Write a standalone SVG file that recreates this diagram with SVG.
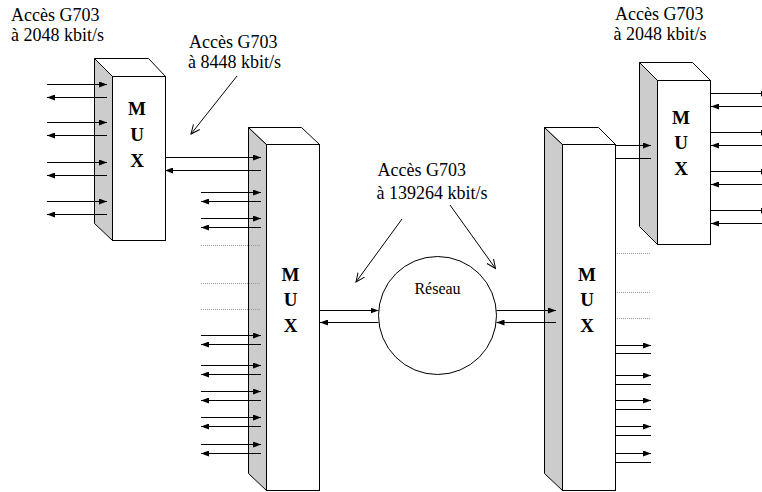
<svg xmlns="http://www.w3.org/2000/svg" width="762" height="492" viewBox="0 0 762 492">
<style>
.face{fill:#fff;stroke:#000;stroke-width:1}
.side{fill:#cccccc;stroke:#000;stroke-width:1}
.mux{font-family:"Liberation Serif","Times New Roman",serif;font-weight:bold;font-size:19px;text-anchor:middle;fill:#000}
.lbl{font-family:"Liberation Serif","Times New Roman",serif;font-size:18px;fill:#000}
.ln{stroke:#000;stroke-width:1;fill:none}
.arr{stroke:#000;stroke-width:1;fill:none;marker-end:url(#ah)}
.ptr{stroke:#000;stroke-width:1;fill:none;marker-end:url(#oh)}
.dot{stroke:#999;stroke-width:1;stroke-dasharray:1 1;fill:none}
</style>
<defs>
<marker id="ah" markerUnits="userSpaceOnUse" viewBox="0 0 8 6" refX="8" refY="3" markerWidth="8" markerHeight="6" orient="auto">
<path d="M0,0 L8,3 L0,6 z" fill="#000"/>
</marker>
<marker id="oh" markerUnits="userSpaceOnUse" viewBox="0 0 10 10" refX="9" refY="5" markerWidth="10" markerHeight="10" orient="auto">
<path d="M0,1 L9,5 L0,9" fill="none" stroke="#000" stroke-width="1"/>
</marker>
</defs>
<rect width="762" height="492" fill="#fff"/>

<g id="label-2048-left">
<text class="lbl" x="11" y="20.5">Accès G703</text>
<text class="lbl" x="11" y="40.5">à 2048 kbit/s</text>
</g>
<g id="label-8448">
<text class="lbl" x="189" y="47.5">Accès G703</text>
<text class="lbl" x="188" y="67.5">à 8448 kbit/s</text>
</g>
<g id="label-139264">
<text class="lbl" x="377.5" y="175.5">Accès G703</text>
<text class="lbl" x="376.5" y="198.5">à 139264 kbit/s</text>
</g>
<g id="label-2048-right">
<text class="lbl" x="615" y="20">Accès G703</text>
<text class="lbl" x="613.5" y="40">à 2048 kbit/s</text>
</g>

<g id="mux1">
<polygon class="side" points="94.5,58.5 112.5,76.5 112.5,240.5 94.5,223.5"/>
<polygon class="face" points="94.5,58.5 148.5,58.5 165.5,76.5 112.5,76.5"/>
<rect class="face" x="112.5" y="76.5" width="53" height="164"/>
<text class="mux" x="137" y="115">M</text>
<text class="mux" x="137" y="141">U</text>
<text class="mux" x="137" y="167">X</text>
</g>
<g id="mux2">
<polygon class="side" points="248.5,127.5 266.5,144.5 266.5,490.5 248.5,473.5"/>
<polygon class="face" points="248.5,127.5 301.5,127.5 319.5,144.5 266.5,144.5"/>
<rect class="face" x="266.5" y="144.5" width="53" height="346"/>
<text class="mux" x="290.5" y="280.5">M</text>
<text class="mux" x="290.5" y="306">U</text>
<text class="mux" x="290.5" y="332">X</text>
</g>
<g id="mux3">
<polygon class="side" points="544.5,127.5 562.5,144.5 562.5,490.5 544.5,473.5"/>
<polygon class="face" points="544.5,127.5 598.5,127.5 615.5,144.5 562.5,144.5"/>
<rect class="face" x="562.5" y="144.5" width="53" height="346"/>
<text class="mux" x="587" y="280.5">M</text>
<text class="mux" x="587" y="306">U</text>
<text class="mux" x="587" y="332">X</text>
</g>
<g id="mux4">
<polygon class="side" points="639.5,62.5 657.5,80.5 657.5,244.5 639.5,226.5"/>
<polygon class="face" points="639.5,62.5 692.5,62.5 710.5,80.5 657.5,80.5"/>
<rect class="face" x="657.5" y="80.5" width="53" height="164"/>
<text class="mux" x="681" y="123.5">M</text>
<text class="mux" x="681" y="149">U</text>
<text class="mux" x="681" y="175">X</text>
</g>
<g id="reseau">
<circle cx="437.5" cy="315.5" r="59" fill="#fff" stroke="#000" stroke-width="1"/>
<text x="437.5" y="293.5" font-family="Liberation Serif, Times New Roman, serif" font-size="16" text-anchor="middle">Réseau</text>
</g>

<g id="connectors">
<!-- mux1 left tributaries -->
<path class="arr" d="M47,84.5 H107"/>
<path class="arr" d="M107,97.5 H47"/>
<path class="arr" d="M47,122.5 H107"/>
<path class="arr" d="M107,135.5 H47"/>
<path class="arr" d="M47,162.5 H107"/>
<path class="arr" d="M107,175.5 H47"/>
<path class="arr" d="M47,201.5 H107"/>
<path class="arr" d="M107,214.5 H47"/>
<!-- mux1 to mux2 -->
<path class="arr" d="M165,157.5 H261"/>
<path class="arr" d="M261,170.5 H165"/>
<!-- mux2 left tributaries -->
<path class="arr" d="M201,192.5 H261"/>
<path class="arr" d="M261,201.5 H201"/>
<path class="arr" d="M201,218.5 H261"/>
<path class="arr" d="M261,227.5 H201"/>
<path class="dot" d="M201,245.5 H260"/>
<path class="dot" d="M201,283.5 H260"/>
<path class="dot" d="M201,309.5 H260"/>
<path class="arr" d="M201,335.5 H261"/>
<path class="arr" d="M261,344.5 H201"/>
<path class="arr" d="M201,365.5 H261"/>
<path class="arr" d="M261,374.5 H201"/>
<path class="arr" d="M201,391.5 H261"/>
<path class="arr" d="M261,400.5 H201"/>
<path class="arr" d="M201,417.5 H261"/>
<path class="arr" d="M261,426.5 H201"/>
<path class="arr" d="M201,444.5 H261"/>
<path class="arr" d="M261,453.5 H201"/>
<!-- mux2 <-> reseau <-> mux3 -->
<path class="arr" d="M320,310.5 H378.5"/>
<path class="arr" d="M378.5,322.5 H320"/>
<path class="arr" d="M496.5,310.5 H556"/>
<path class="arr" d="M556,322.5 H496.5"/>
<!-- mux3 to mux4 -->
<path class="arr" d="M616,145.5 H651"/>
<path class="ln" d="M616,158.5 H651"/>
<!-- mux3 right tributaries -->
<path class="dot" d="M617,253.5 H651"/>
<path class="dot" d="M617,292.5 H651"/>
<path class="dot" d="M617,318.5 H651"/>
<path class="arr" d="M616,345.5 H651"/>
<path class="ln" d="M616,353.5 H651"/>
<path class="arr" d="M616,375.5 H651"/>
<path class="ln" d="M616,384.5 H651"/>
<path class="arr" d="M616,400.5 H651"/>
<path class="ln" d="M616,409.5 H651"/>
<path class="arr" d="M616,426.5 H651"/>
<path class="ln" d="M616,435.5 H651"/>
<path class="arr" d="M616,453.5 H651"/>
<path class="ln" d="M616,462.5 H651"/>
<!-- mux4 right tributaries -->
<path class="arr" d="M711,93.5 H769"/>
<path class="arr" d="M762,106.5 H711"/>
<path class="arr" d="M711,132.5 H769"/>
<path class="arr" d="M762,145.5 H711"/>
<path class="arr" d="M711,171.5 H769"/>
<path class="arr" d="M762,184.5 H711"/>
<path class="arr" d="M711,210.5 H769"/>
<path class="arr" d="M762,223.5 H711"/>
<!-- label pointers -->
<path class="ptr" d="M237,76 L191,134"/>
<path class="ptr" d="M402,219 L356,282"/>
<path class="ptr" d="M450,205 L495.5,268.5"/>
</g>
</svg>
